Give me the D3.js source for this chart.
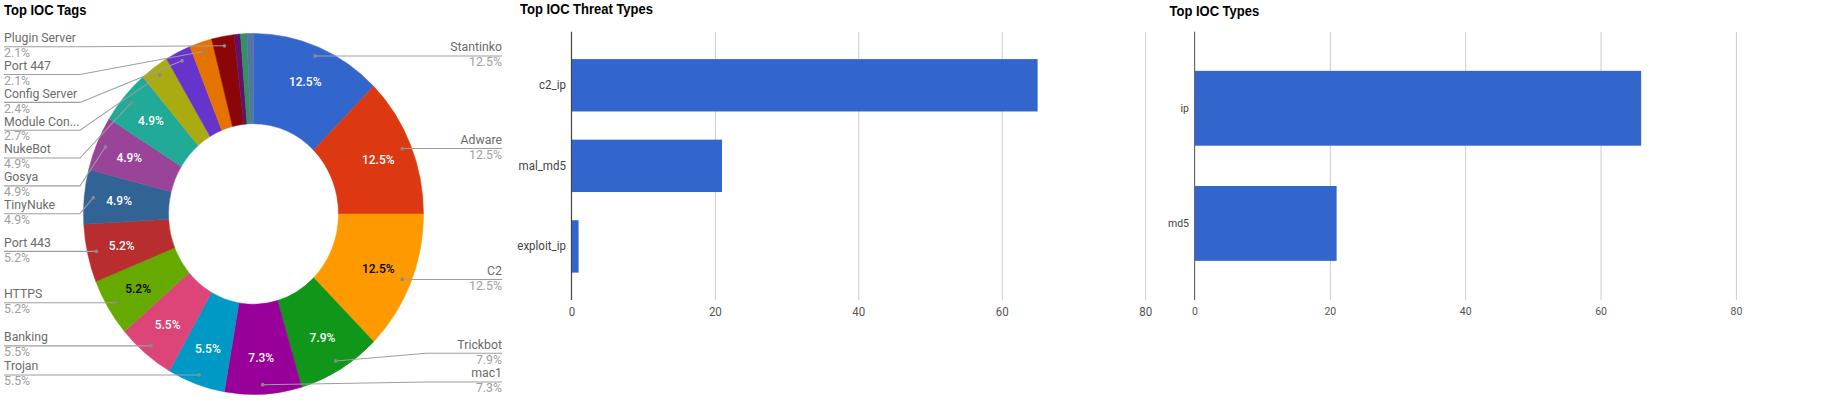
<!DOCTYPE html>
<html>
<head>
<meta charset="utf-8">
<script src="https://cdn.jsdelivr.net/npm/d3@7"></script>
<style>
  body { margin: 0; background: #fff; }
  svg { display: block; font-family: Roboto, "Noto Sans", Arial, sans-serif; }
  .title { font-family: "Liberation Sans", Arial, sans-serif; font-weight: bold; font-size: 13px; fill: #000; }
</style>
</head>
<body>
<svg id="board" width="1827" height="402"></svg>
<script>
// ---- data ----
// Top IOC Tags, counts (total 328)
var tagNames  = ["Stantinko", "Adware", "C2", "Trickbot", "mac1", "Trojan", "Banking", "HTTPS",
                 "Port 443", "TinyNuke", "Gosya", "NukeBot", "Module Con...", "Config Server",
                 "Port 447", "Plugin Server", "Other 1", "Other 2", "Other 3"];
var tagCounts = [41, 41, 41, 26, 24, 18, 18, 17, 17, 16, 16, 16, 9, 8, 7, 7, 2, 2, 2];
var tagColors = ["#3366cc", "#dc3912", "#ff9900", "#109618", "#990099", "#0099c6", "#dd4477", "#66aa00",
                 "#b82e2e", "#316395", "#994499", "#22aa99", "#aaaa11", "#6633cc", "#e67300", "#8b0707",
                 "#651067", "#329262", "#5574a6"];

// Top IOC Threat Types
var threatTypes  = ["c2_ip", "mal_md5", "exploit_ip"];
var threatCounts = [65, 21, 1];

// Top IOC Types
var iocTypes  = ["ip", "md5"];
var iocCounts = [66, 21];

var xTicks = [0, 20, 40, 60, 80];

// the screenshot is a little stretched vertically
var SY = 1.062;

var svg = d3.select("#board");
var root = svg.append("g").attr("transform", "scale(1," + SY + ")");

// ================= donut =================
var tags = tagNames.map(function(n, i){ return {name: n, count: tagCounts[i], color: tagColors[i]}; });
var total = d3.sum(tagCounts);
var pct = d3.format(".1%");

var cx = 253.5, cy = 201.5, R = 170;

root.append("text").attr("class", "title").attr("x", 4).attr("y", 13.7).text("Top IOC Tags");

var pie = d3.pie().sort(null).value(function(d){ return d.count; });
var arcs = pie(tags);
var arc = d3.arc().innerRadius(R * 0.5).outerRadius(R);
var labelArc = d3.arc().innerRadius(135).outerRadius(135);

var donut = root.append("g").attr("transform", "translate(" + cx + "," + cy + ")");

donut.selectAll("path.slice")
  .data(arcs)
  .enter().append("path")
    .attr("class", "slice")
    .attr("d", arc)
    .attr("fill", function(d){ return d.data.color; })
    .attr("stroke", function(d){ return d.data.color; })
    .attr("stroke-width", 0.5);

function textOn(c){
  var rgb = d3.rgb(c);
  var yiq = (rgb.r * 299 + rgb.g * 587 + rgb.b * 114) / 1000;
  return yiq >= 128 ? "#000" : "#fff";
}

donut.selectAll("text.inner")
  .data(arcs.filter(function(d){ return d.data.count / total > 0.04; }))
  .enter().append("text")
    .attr("class", "inner")
    .attr("transform", function(d){ var c = labelArc.centroid(d); return "translate(" + c[0] + "," + (c[1] + 4.3) + ")"; })
    .attr("text-anchor", "middle")
    .style("font-size", "12px")
    .style("font-weight", 500)
    .attr("fill", function(d){ return textOn(d.data.color); })
    .text(function(d){ return pct(d.data.count / total); });

// labeled legend
var dotR = 161;
var legendItems = arcs.filter(function(d){ return d.data.count / total >= 0.01; }).map(function(d){
  var mid = (d.startAngle + d.endAngle) / 2;
  return {
    d: d,
    side: mid < Math.PI ? "right" : "left",
    dx: cx + dotR * Math.sin(mid),
    dy: cy - dotR * Math.cos(mid)
  };
});

function stack(items, gap, minY, maxY){
  items.sort(function(a, b){ return a.dy - b.dy; });
  var prev = -Infinity;
  items.forEach(function(it){
    it.ly = Math.max(it.dy, prev + gap, minY);
    prev = it.ly;
  });
  var next = Infinity;
  for (var i = items.length - 1; i >= 0; i--){
    items[i].ly = Math.min(items[i].ly, next - gap, maxY);
    next = items[i].ly;
  }
}

var leftItems = legendItems.filter(function(it){ return it.side == "left"; });
var rightItems = legendItems.filter(function(it){ return it.side == "right"; });
stack(leftItems, 26.2, 44, 359.7);
stack(rightItems, 27, 44, 359.7);

var cols = {
  left:  {textX: 4,   bendX: 80,  anchor: "start"},
  right: {textX: 502, bendX: 426, anchor: "end"}
};

var line = d3.line();
var legend = root.append("g").attr("class", "legend");

legendItems.forEach(function(it){
  var col = cols[it.side];
  var pts = [[it.dx, it.dy]];
  if (Math.abs(it.ly - it.dy) > 0.5) pts.push([col.bendX, it.ly]);
  pts.push([col.textX, it.ly]);

  legend.append("path")
    .attr("d", line(pts))
    .attr("fill", "none")
    .attr("stroke", "#9e9e9e")
    .attr("stroke-width", 1);

  legend.append("circle")
    .attr("cx", it.dx).attr("cy", it.dy).attr("r", 1.8)
    .attr("fill", "#8a8a8a");

  legend.append("text")
    .attr("x", col.textX).attr("y", it.ly - 4.3)
    .attr("text-anchor", col.anchor)
    .style("font-size", "12.3px")
    .attr("fill", "#6b6b6b")
    .text(it.d.data.name);

  legend.append("text")
    .attr("x", col.textX).attr("y", it.ly + 9.6)
    .attr("text-anchor", col.anchor)
    .style("font-size", "12.3px")
    .attr("fill", "#a0a0a0")
    .text(pct(it.d.data.count / total));
});

// ================= bar charts =================
function drawBars(o){
  var g = root.append("g");

  g.append("text").attr("class", "title").attr("x", o.titleX).attr("y", o.titleY).text(o.title);

  var x = d3.scaleLinear().domain([0, 80]).range([o.x0, o.x1]);
  var y = d3.scaleBand().domain(o.cats).range([29.85, 282.5]).paddingInner(0.35).paddingOuter(0.34);

  var xAxis = g.append("g")
    .attr("transform", "translate(0,282.5)")
    .call(d3.axisBottom(x).tickValues(xTicks).tickSize(-(282.5 - 29.85)).tickPadding(6.5));
  xAxis.select(".domain").remove();
  xAxis.selectAll(".tick line").attr("stroke", "#cccccc");
  xAxis.selectAll(".tick text").attr("fill", "#555").style("font-size", o.fontSize + "px").style("font-family", "Roboto, Arial, sans-serif");

  g.selectAll("rect.bar")
    .data(o.vals)
    .enter().append("rect")
      .attr("class", "bar")
      .attr("x", x(0))
      .attr("y", function(d, i){ return y(o.cats[i]); })
      .attr("width", function(d){ return x(d) - x(0); })
      .attr("height", y.bandwidth())
      .attr("fill", "#3366cc");

  // baseline at zero
  g.append("line")
    .attr("x1", x(0)).attr("x2", x(0))
    .attr("y1", 29.85).attr("y2", 282.5)
    .attr("stroke", o.baseColor).attr("stroke-width", 1);

  var yAxis = g.append("g")
    .attr("transform", "translate(" + x(0) + ",0)")
    .call(d3.axisLeft(y).tickSize(0).tickPadding(5.5));
  yAxis.select(".domain").remove();
  yAxis.selectAll(".tick text").attr("fill", "#444").style("font-size", o.fontSize + "px").style("font-family", "Roboto, Arial, sans-serif");
}

drawBars({
  title: "Top IOC Threat Types", titleX: 520, titleY: 12.8,
  cats: threatTypes, vals: threatCounts,
  x0: 571.4, x1: 1145.2, fontSize: 11.5, baseColor: "#333"
});

drawBars({
  title: "Top IOC Types", titleX: 1169.5, titleY: 15,
  cats: iocTypes, vals: iocCounts,
  x0: 1194.5, x1: 1735.9, fontSize: 10.5, baseColor: "#666"
});
</script>
</body>
</html>
